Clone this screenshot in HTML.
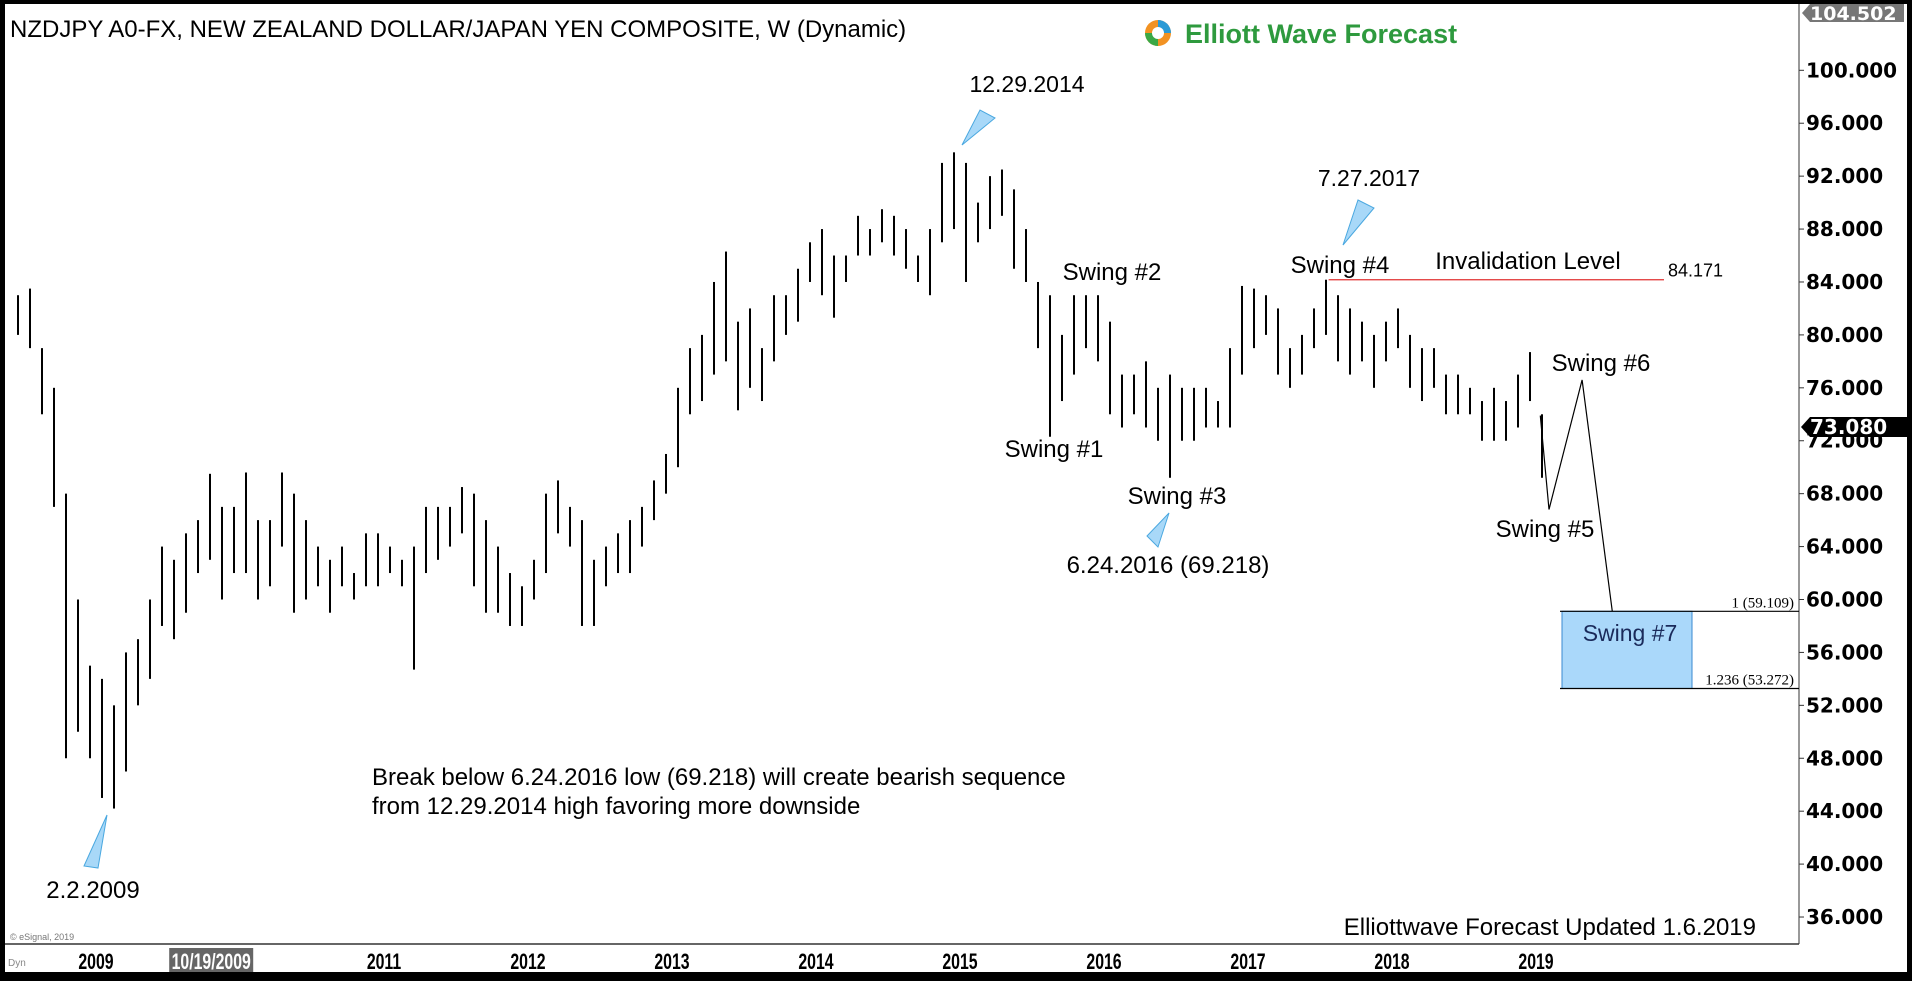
<!DOCTYPE html>
<html><head><meta charset="utf-8">
<style>
html,body{margin:0;padding:0;background:#000;}
#wrap{position:relative;width:1912px;height:981px;overflow:hidden;background:#000;font-family:"Liberation Sans",sans-serif;}
svg{position:absolute;left:0;top:0;}
</style></head>
<body>
<div id="wrap">
<svg id="chart" width="1912" height="981">
  <rect x="5" y="4" width="1902" height="968" fill="#fff"/>
  <line x1="1799" y1="4" x2="1799" y2="944" stroke="#333" stroke-width="1"/>
  <line x1="5" y1="944" x2="1799" y2="944" stroke="#333" stroke-width="1.5"/>
  <g id="yaxis"></g>
  <g id="xaxis"></g>
  <g id="bars"></g>
  <g id="annot"></g>
  <text x="10" y="37" font-size="24" fill="#000">NZDJPY A0-FX, NEW ZEALAND DOLLAR/JAPAN YEN COMPOSITE, W (Dynamic)</text>
  <g>
    <circle cx="1158" cy="33" r="13" fill="#f29222"/>
    <path d="M1158 20 A13 13 0 0 1 1171 33 L1158 33 Z" fill="#2a9ad6"/>
    <path d="M1145 33 A13 13 0 0 0 1158 46 L1158 33 Z" fill="#3aa845"/>
    <circle cx="1158" cy="33" r="6" fill="#fff"/>
    <text x="1185" y="43" font-size="27" font-weight="bold" fill="#2e9a3e">Elliott Wave Forecast</text>
  </g>
  <text x="10" y="940" font-size="9" fill="#777">© eSignal, 2019</text>
  <text x="1756" y="935" font-size="24" text-anchor="end" fill="#000">Elliottwave Forecast Updated 1.6.2019</text>
  <text x="372" y="785" font-size="24" fill="#000">Break below 6.24.2016 low (69.218) will create bearish sequence</text>
  <text x="372" y="814" font-size="24" fill="#000">from 12.29.2014 high favoring more downside</text>
</svg>
</div>
<script>
const months0 = 2008 + 5/12; // first bar: Jun 2008
const highs = [83,83.5,79,76,68,60,55, 54,52,56,57,60,64,63,65,66,69.5,67,67, 69.6,66,66,69.6,68,66,64,63,64,62,65,65, 64,63,64,67,67,67,68.5,68,66,64,62,61, 63,68,69,67,66,63,64,65,66,67,69,71, 76,79,80,84,86.3,81,82,79,83,83,85,87, 88,86,86,89,88,89.5,89,88,86,88,93,93.8, 93,90,92,92.5,91,88,84,83,80,83,83,83, 81,77,77,78,76,77,76,76,76,75,79,83.7, 83.5,83,82,79,80,82,84.17,83,82,81,80,81, 82,80,79,79,77,77,76,75,76,75,77,78.7, 74];
const lows = [80,79,74,67,48,50,48, 45,44.2,47,52,54,58,57,59,62,63,60,62, 62,60,61,64,59,60,61,59,61,60,61,61, 62,61,54.7,62,63,64,65,61,59,59,58,58, 60,62,65,64,58,58,61,62,62,64,66,68, 70,74,75,77,78,74.3,76,75,78,80,81,84, 83,81.3,84,86,86,87,86,85,84,83,87,88, 84,87,88,89,85,84,79,72.3,75,77,79,78, 74,73,74,73,72,69.2,72,72,73,73,73,77, 79,80,77,76,77,79,80,78,77,78,76,78, 79,76,75,76,74,74,74,72,72,72,73,75, 69.2];
const yTicks = [36,40,44,48,52,56,60,64,68,72,76,80,84,88,92,96,100];
const yearLabels = ["2009","10/19/2009","2011","2012","2013","2014","2015","2016","2017","2018","2019"];
const yearPos = [2009,2009.8,2011,2012,2013,2014,2015,2016,2017,2018,2019];
const projTimes = [2019.03,2019.09,2019.32,2019.53];
const projValues = [73.9,66.8,76.6,59.1];
const fibLevels = [59.109,53.272];
const fibNames = ["1 (59.109)","1.236 (53.272)"];
const invalidation = 84.171;

const NS="http://www.w3.org/2000/svg";
function X(t){return 96+(t-2009)*144;}
function Y(v){return 599.5+(60-v)*13.23;}
function mk(tag,attrs,parent,txt){const e=document.createElementNS(NS,tag);for(const k in attrs)e.setAttribute(k,attrs[k]);if(txt!==undefined)e.textContent=txt;parent.appendChild(e);return e;}

const ya=document.getElementById('yaxis');
const AX='DejaVu Sans, sans-serif';
yTicks.forEach(v=>{
  const t=mk('line',{x1:1799,x2:1804,y1:Y(v),y2:Y(v),stroke:'#333'},ya);
  
  
  const l=mk('text',{x:1806,y:Y(v)+7,'font-size':20,'font-weight':'bold','font-family':AX,fill:'#000'},ya,v.toFixed(3));
  
  
});
const tb=mk('path',{d:'M1802 13 L1810 4 L1904 4 L1904 22 L1810 22 Z',fill:'#777'},ya);


const tl=mk('text',{x:1810,y:20,'font-size':19,'font-weight':'bold','font-family':AX,fill:'#fff'},ya,'104.502');


const cb=mk('path',{d:'M1801 427 L1810 417 L1907 417 L1907 437 L1810 437 Z',fill:'#000'},ya);


const cl=mk('text',{x:1810,y:434,'font-size':20,'font-weight':'bold','font-family':AX,fill:'#fff'},ya,'73.080');



const xa=document.getElementById('xaxis');
const dy=mk('text',{x:8,y:966,'font-size':10,fill:'#888'},xa,'Dyn');


yearLabels.forEach((s,i)=>{
  const x=X(yearPos[i]);
  if(i===1){
    const r=mk('rect',{x:x-42,y:948,width:84,height:24,fill:'#666'},xa);
    
    
  }
  const t=mk('text',{x:x,y:969,'font-size':22,'font-weight':'bold','text-anchor':'middle',fill:i===1?'#fff':'#000',transform:`translate(${x},0) scale(0.72,1) translate(${-x},0)`},xa,s);
  
  
});

const bg=document.getElementById('bars');
highs.forEach((h,i)=>{
  const t=months0+(i+0.5)/12;
  const b=mk('line',{x1:X(t),x2:X(t),y1:Y(h),y2:Y(lows[i]),stroke:'#000','stroke-width':2},bg);
  
  
});

const an=document.getElementById('annot');
function txt(x,y,s,name,size,anchor,fill){const e=mk('text',{x:x,y:y,'font-size':size||24,'text-anchor':anchor||'middle',fill:fill||'#000'},an,s);
  
  return e;}
function tri(pts,name){const e=mk('polygon',{points:pts,fill:'#a8d8f8',stroke:'#4aa8e0','stroke-width':1},an);
  
  }
tri('962,145 980,110 995,118','arrow-2014-high');
tri('1343,245 1358,200 1374,208','arrow-2017-high');
tri('1158,547 1147,536 1169,513','arrow-2016-low');
tri('107,815 84,866 98,868','arrow-2009-low');
txt(1027,92,'12.29.2014','label-2014-high',23);
txt(1369,186,'7.27.2017','label-2017-high',23);
txt(1112,280,'Swing #2','swing-2-label');
txt(1340,273,'Swing #4','swing-4-label');
txt(1528,269,'Invalidation Level','invalidation-label');
txt(1054,457,'Swing #1','swing-1-label');
txt(1177,504,'Swing #3','swing-3-label');
txt(1168,573,'6.24.2016 (69.218)','label-2016-low');
txt(1545,537,'Swing #5','swing-5-label');
txt(1601,371,'Swing #6','swing-6-label');
txt(93,898,'2.2.2009','label-2009-low');
const il=mk('line',{x1:X(2017.56),x2:1664,y1:Y(invalidation),y2:Y(invalidation),stroke:'#e03030','stroke-width':1.3},an);


txt(1668,Y(invalidation)-3,invalidation.toFixed(3),'invalidation-value',18,'start');
const bx=mk('rect',{x:1562,y:Y(fibLevels[0]),width:130,height:Y(fibLevels[1])-Y(fibLevels[0]),fill:'#aad8fa',stroke:'#3a8ad0','stroke-width':1},an);


fibLevels.forEach((v,i)=>{
  const l=mk('line',{x1:1560,x2:1799,y1:Y(v),y2:Y(v),stroke:'#000','stroke-width':1.2},an);
  
  
  const t=mk('text',{x:1794,y:Y(v)-4,'font-size':15,'font-family':'Liberation Serif, serif','text-anchor':'end',fill:'#000'},an,fibNames[i]);
  
  
});
txt(1630,641,'Swing #7','swing-7-label',23,'middle','#1a2a5a');
const pd=projTimes.map((t,i)=>(i?'L':'M')+X(t).toFixed(1)+' '+Y(projValues[i]).toFixed(1)).join(' ');
const pp=mk('path',{d:pd,fill:'none',stroke:'#000','stroke-width':1.2},an);


</script>
</body></html>
